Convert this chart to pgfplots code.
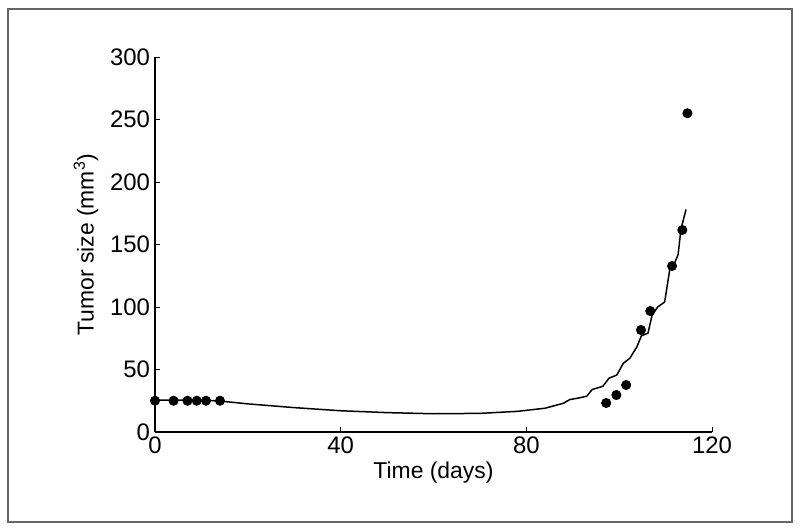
\documentclass[border=0pt]{standalone}
\usepackage{fontspec}
\setmainfont{Liberation Sans}
\usepackage{pgfplots}
\pgfplotsset{compat=1.18}

\begin{document}
\begin{tikzpicture}
\path (0,0) rectangle (400bp,265.5bp);
\draw[black!60,line width=0.8bp] (4bp,4.5bp) rectangle (396bp,261bp);
\begin{axis}[at={(77.5bp,49.5bp)},anchor=south west,
  scale only axis,width=278.5bp,height=187.5bp,
  xmin=0,xmax=120,ymin=0,ymax=300,
  axis x line=bottom,axis y line=left,
  axis line style={-,line width=0.7bp},
  xtick={0,40,80,120},ytick={0,50,...,300},
  tick align=inside,major tick length=2.5bp,
  tick style={black,line width=0.5bp},
  /pgf/number format/assume math mode=true,
  tick label style={font=\fontsize{12}{14}\selectfont},
  yticklabel style={xshift=1bp},
  xticklabel style={yshift=1bp},
  label style={font=\fontsize{11.5}{13}\selectfont},
  xlabel={Time (days)},ylabel={Tumor size (mm\textsuperscript{3})},
  xlabel style={yshift=3bp},ylabel style={yshift=-1bp},
  clip=false]
% model fit
\addplot[black,line width=0.75bp] coordinates {
(0,25.6)(5,25.6)(10,25.4)(14,24.8)(20,22.5)(30,19.5)(40,17)(50,15.5)
(60,14.6)(70,14.9)(78,16.5)(84,19)(86,21)(88,23)(89.4,26)(91,27)
(93,28.6)(94.2,34)(96.5,36.6)(97.8,43)(99.5,45.6)(100.9,55)(102.3,59)
(103.8,68)(104.8,77)(106.2,79)(107.1,93.6)(108.3,100)(109.8,104)
(110.9,130)(111.6,132)(112.7,142)(113.3,162)(114.4,178)};
% measured tumor size
\addplot[only marks,mark=*,mark size=2.3bp,black] coordinates {
(0,25)(4,25)(7,25)(9,25)(11,25)(14,25)
(97.2,23.2)(99.4,29.6)(101.5,37.6)(104.7,81.6)(106.7,96.8)
(111.4,132.8)(113.6,161.6)(114.7,255)};
\end{axis}
\end{tikzpicture}
\end{document}
